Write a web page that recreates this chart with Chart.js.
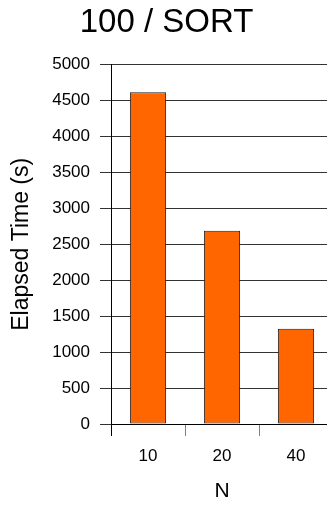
<!DOCTYPE html>
<html>
<head>
<meta charset="utf-8">
<script src="https://cdn.jsdelivr.net/npm/chart.js@4/dist/chart.umd.min.js"></script>
<style>
  html, body { margin: 0; padding: 0; background: #fff; overflow: hidden; }
  #wrap { width: 340px; height: 506px; }
</style>
</head>
<body>
<div id="wrap"><canvas id="c" width="340" height="506"></canvas></div>
<script>
// Problem size N and elapsed time of the 100 / SORT runs
const sizes = ['10', '20', '40'];
const elapsedSeconds = [4615, 2690, 1325];
const yTickStep = 500;
const yMax = 5000;

const FONT = 'Liberation Sans, Arial, sans-serif';

new Chart(document.getElementById('c'), {
  type: 'bar',
  data: {
    labels: sizes,
    datasets: [{
      data: elapsedSeconds,
      backgroundColor: '#FF6600',
      borderColor: '#1a1a1a',
      borderWidth: 1,
      borderSkipped: false,
      barPercentage: 0.49,
      categoryPercentage: 1.0
    }]
  },
  options: {
    responsive: false,
    devicePixelRatio: 1,
    animation: false,
    layout: { padding: { left: 0, right: 7, top: 0, bottom: 0 } },
    plugins: {
      legend: { display: false },
      tooltip: { enabled: false },
      title: {
        display: true,
        text: '100 / SORT',
        color: '#000',
        font: { family: FONT, size: 33, weight: 'normal' },
        padding: { top: 3, bottom: 22 }
      }
    },
    scales: {
      x: {
        offset: true,
        border: { display: true, color: '#000', width: 1 },
        grid: {
          offset: true,
          drawOnChartArea: false,
          drawTicks: true,
          tickLength: 12,
          tickColor: (ctx) => ctx.index === 0 ? '#000' : '#808080'
        },
        ticks: {
          color: '#000',
          font: { family: FONT, size: 17 },
          padding: 10,
          maxRotation: 0
        },
        title: {
          display: true,
          text: 'N',
          color: '#000',
          font: { family: FONT, size: 21 },
          padding: { top: 0, bottom: 2 }
        },
        afterFit: (scale) => { scale.height = 82; }
      },
      y: {
        min: 0,
        max: yMax,
        border: { display: true, color: '#000', width: 1 },
        grid: {
          color: '#333',
          lineWidth: 1,
          drawTicks: true,
          tickLength: 11,
          tickColor: '#333'
        },
        ticks: {
          stepSize: yTickStep,
          color: '#000',
          font: { family: FONT, size: 17 },
          padding: 10,
          callback: (v) => String(v)
        },
        title: {
          display: true,
          text: 'Elapsed Time (s)',
          color: '#000',
          font: { family: FONT, size: 23 },
          padding: { top: 8, bottom: 0 }
        },
        afterFit: (scale) => { scale.width = 111; }
      }
    }
  }
});
</script>
</body>
</html>
